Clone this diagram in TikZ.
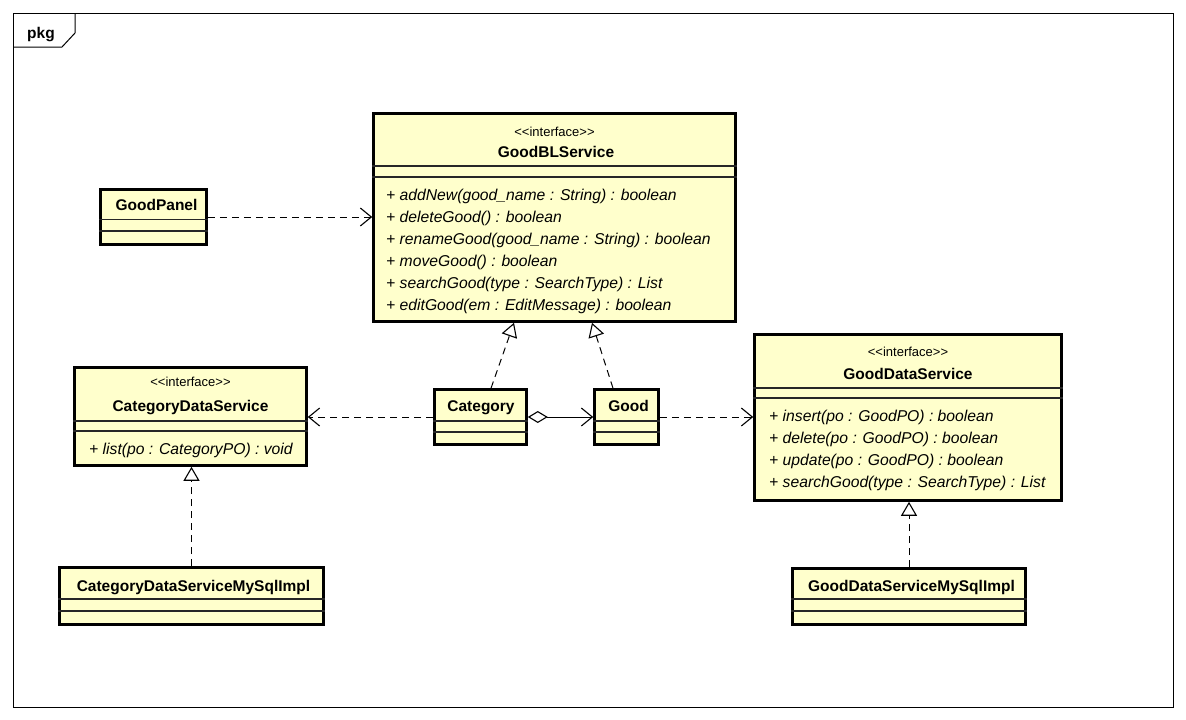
\documentclass[tikz,border=0pt]{standalone}
\usepackage{fontspec}
\setmainfont{Liberation Sans}[Ligatures=TeXOff]
\usetikzlibrary{arrows.meta}
\definecolor{clsfill}{RGB}{255,255,204}
\begin{document}
\begin{tikzpicture}[x=1pt,y=-1pt,
  cls/.style={draw=black, line width=2.6pt, fill=clsfill, inner sep=0pt},
  sep/.style={draw=black!85, line width=1.1pt},
  nm/.style={font=\fontsize{15.5}{17}\selectfont\bfseries, inner sep=0pt, anchor=base},
  stereo/.style={font=\fontsize{13}{15}\selectfont, inner sep=0pt, anchor=base},
  op/.style={font=\fontsize{15.7}{18}\selectfont\itshape, inner sep=0pt, anchor=base west},
  dep/.style={line width=1pt, dash pattern=on 7pt off 5pt,
    -{Straight Barb[length=11pt,width=18pt,line width=1.1pt]}},
  real/.style={line width=1pt, dash pattern=on 7pt off 5pt,
    -{Triangle[open,length=14pt,width=16pt,line width=1.1pt,fill=white]}},
  aggr/.style={line width=1pt,
    {Diamond[open,length=20pt,width=12pt,line width=1.1pt,fill=white]}-{Straight Barb[length=11pt,width=18pt,line width=1.1pt]}}
]
\useasboundingbox (0,0) rectangle (1186,720);
\fill[white] (0,0) rectangle (1186,720);

% package frame with its name tab
\draw[line width=1pt] (13,13) rectangle (1173,707);
\draw[line width=1pt] (75,13) -- (75,33) -- (62,47) -- (13,47);
\node[nm] (pkgname) at (41,38.3) {pkg};

% GoodBLService
\node[cls, minimum width=362, minimum height=208] (bl) at (554.5,217.5) {};
\draw[sep] (bl.west |- 0,166) -- (bl.east |- 0,166);
\draw[sep] (bl.west |- 0,177) -- (bl.east |- 0,177);
\node[stereo] (blst) at (554.5,136) {<<interface>>};
\node[nm] (blname) at (556,157.5) {GoodBLService};
\node[op] (blop1) at (386,200.7) {+ addNew(good\_name : String) : boolean};
\node[op] (blop2) at (386,222.7) {+ deleteGood() : boolean};
\node[op] (blop3) at (386,244.7) {+ renameGood(good\_name : String) : boolean};
\node[op] (blop4) at (386,266.7) {+ moveGood() : boolean};
\node[op] (blop5) at (386,288.7) {+ searchGood(type : SearchType) : List};
\node[op] (blop6) at (386,310.7) {+ editGood(em : EditMessage) : boolean};

% GoodPanel
\node[cls, minimum width=106, minimum height=55] (panel) at (153.5,217) {};
\draw[sep] (panel.west |- 0,219.5) -- (panel.east |- 0,219.5);
\draw[sep] (panel.west |- 0,231) -- (panel.east |- 0,231);
\node[nm] (panelname) at (156.5,210.7) {GoodPanel};

% CategoryDataService
\node[cls, minimum width=232, minimum height=98] (cds) at (190.5,416.5) {};
\draw[sep] (cds.west |- 0,421) -- (cds.east |- 0,421);
\draw[sep] (cds.west |- 0,431) -- (cds.east |- 0,431);
\node[stereo] (cdsst) at (190.5,386.7) {<<interface>>};
\node[nm] (cdsname) at (190.5,411) {CategoryDataService};
\node[op] (cdsop1) at (89,454) {+ list(po : CategoryPO) : void};

% Category
\node[cls, minimum width=92, minimum height=55] (cat) at (480.5,417) {};
\draw[sep] (cat.west |- 0,421) -- (cat.east |- 0,421);
\draw[sep] (cat.west |- 0,432) -- (cat.east |- 0,432);
\node[nm] (catname) at (481,411.7) {Category};

% Good
\node[cls, minimum width=64, minimum height=55] (good) at (626.5,417) {};
\draw[sep] (good.west |- 0,421) -- (good.east |- 0,421);
\draw[sep] (good.west |- 0,432) -- (good.east |- 0,432);
\node[nm] (goodname) at (628.5,411.7) {Good};

% GoodDataService
\node[cls, minimum width=307, minimum height=166] (gds) at (908,417.5) {};
\draw[sep] (gds.west |- 0,388) -- (gds.east |- 0,388);
\draw[sep] (gds.west |- 0,398) -- (gds.east |- 0,398);
\node[stereo] (gdsst) at (908,356.7) {<<interface>>};
\node[nm] (gdsname) at (908,379) {GoodDataService};
\node[op] (gdsop1) at (769,421) {+ insert(po : GoodPO) : boolean};
\node[op] (gdsop2) at (769,443) {+ delete(po : GoodPO) : boolean};
\node[op] (gdsop3) at (769,465) {+ update(po : GoodPO) : boolean};
\node[op] (gdsop4) at (769,487) {+ searchGood(type : SearchType) : List};

% GoodDataServiceMySqlImpl
\node[cls, minimum width=233, minimum height=56] (gdsi) at (909,596.5) {};
\draw[sep] (gdsi.west |- 0,599) -- (gdsi.east |- 0,599);
\draw[sep] (gdsi.west |- 0,611) -- (gdsi.east |- 0,611);
\node[nm] (gdsiname) at (911.5,591) {GoodDataServiceMySqlImpl};

% CategoryDataServiceMySqlImpl
\node[cls, minimum width=264, minimum height=57] (cdsi) at (191.5,596) {};
\draw[sep] (cdsi.west |- 0,599) -- (cdsi.east |- 0,599);
\draw[sep] (cdsi.west |- 0,611) -- (cdsi.east |- 0,611);
\node[nm] (cdsiname) at (193.5,591.7) {CategoryDataServiceMySqlImpl};

% dependencies
\draw[dep] (panel.east) -- (bl.west |- panel.east);
\draw[dep] (cat.west) -- (cds.east |- cat.west);
\draw[dep] (good.east) -- (gds.west |- good.east);

% aggregation
\draw[aggr] (cat.east) -- (good.west);

% realizations
\draw[real] ([xshift=10.5]cat.north) -- ([xshift=-40.5]bl.south);
\draw[real] ([xshift=-13.5]good.north) -- ([xshift=37.5]bl.south);
\draw[real] (gdsi.north) -- (gds.south -| gdsi.north);
\draw[real] (cdsi.north) -- (cds.south -| cdsi.north);
\end{tikzpicture}
\end{document}
